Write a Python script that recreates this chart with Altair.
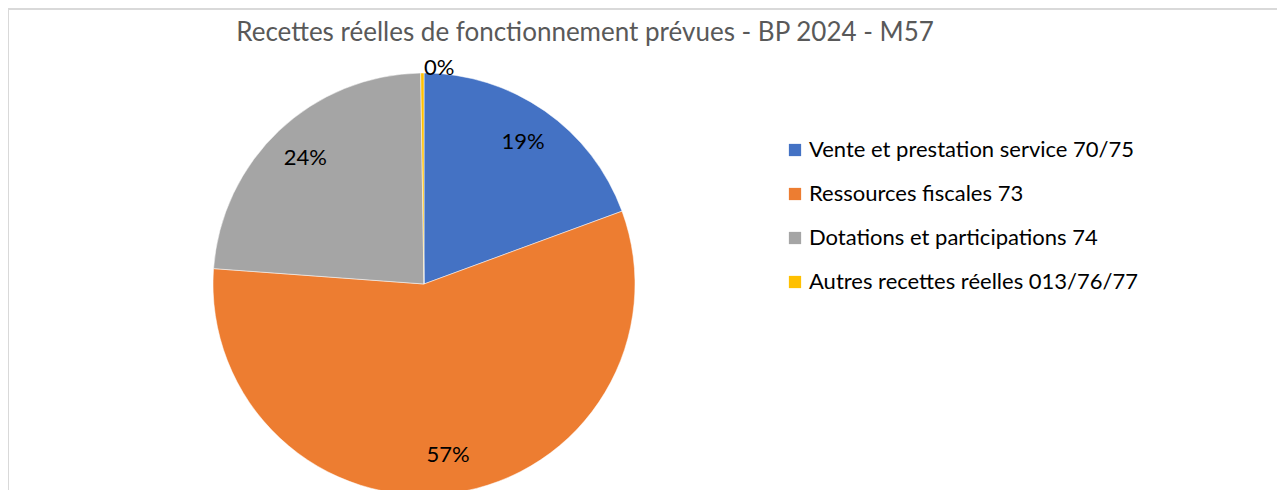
import altair as alt
import pandas as pd

categories = [
    "Vente et prestation service 70/75",
    "Ressources fiscales 73",
    "Dotations et participations 74",
    "Autres recettes réelles 013/76/77",
]
values = [19.4, 56.8, 23.6, 0.25]
labels = ["19%", "57%", "24%", "0%"]
colors = ["#4472C4", "#ED7D31", "#A5A5A5", "#FFC000"]
title_text = "Recettes réelles de fonctionnement prévues - BP 2024 - M57"

df = pd.DataFrame({"cat": categories, "value": values, "label": labels,
                   "idx": list(range(len(categories)))})

FONT = "Lato"
CX, CY, R = 416, 276, 211

base = alt.Chart(df).transform_calculate(
    inner="datum.idx < 3 ? datum.label : ''",
    outer="datum.idx == 3 ? datum.label : ''",
)

theta = alt.Theta("value:Q", stack=True)
order = alt.Order("idx:Q", sort="ascending")

arcs = base.mark_arc(radius=R, stroke="white", strokeWidth=0.5).encode(
    theta=theta,
    order=order,
    x=alt.value(CX),
    y=alt.value(CY),
    color=alt.Color(
        "cat:N",
        scale=alt.Scale(domain=categories, range=colors),
        sort=categories,
        legend=alt.Legend(
            orient="none", legendX=776, legendY=131, title=None,
            symbolType="square", symbolSize=150, symbolStrokeWidth=0,
            labelFont=FONT, labelFontSize=22, labelColor="#000000",
            rowPadding=22, labelOffset=3, labelLimit=500,
        ),
    ),
)

inner_text = base.mark_text(radius=173, font=FONT, fontSize=22, color="#000000").encode(
    theta=theta, order=order, x=alt.value(CX), y=alt.value(CY), text="inner:N"
)
outer_text = base.mark_text(radius=219, dx=17, dy=3, font=FONT, fontSize=22,
                            color="#000000").encode(
    theta=theta, order=order, x=alt.value(CX), y=alt.value(CY), text="outer:N"
)

title = alt.Chart(pd.DataFrame({"t": [title_text]})).mark_text(
    font=FONT, fontSize=26, color="#595959", baseline="middle", align="center"
).encode(x=alt.value(577), y=alt.value(25), text="t:N")

border = alt.Chart(pd.DataFrame({"t": [0]}))
top_line = border.mark_rule(color="#d9d9d9", strokeWidth=2).encode(
    x=alt.value(0), x2=alt.value(1269), y=alt.value(1)
)
left_line = border.mark_rule(color="#d9d9d9", strokeWidth=2).encode(
    x=alt.value(0), y=alt.value(0), y2=alt.value(482)
)

chart = alt.layer(top_line, left_line, arcs, inner_text, outer_text, title).properties(
    width=1269, height=482, padding=0, autosize=alt.AutoSizeParams(type="none")
).configure_view(stroke=None)

chart.save("out.html", embed_options={"renderer": "svg", "actions": False})
